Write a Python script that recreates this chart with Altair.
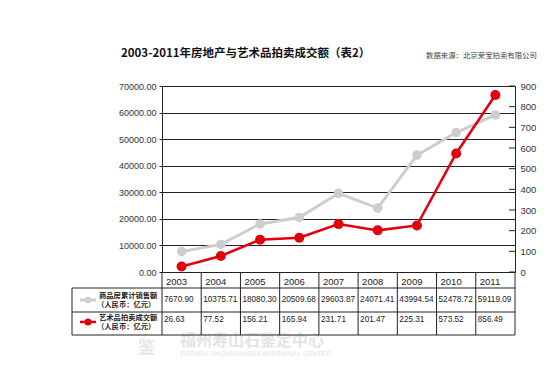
import altair as alt
import pandas as pd

years = ["2003", "2004", "2005", "2006", "2007", "2008", "2009", "2010", "2011"]
housing = [7670.90, 10375.71, 18080.30, 20509.68, 29603.87, 24071.41, 43994.54, 52478.72, 59119.09]
art = [26.63, 77.52, 156.21, 165.94, 231.71, 201.47, 225.31, 573.52, 856.49]
left_ticks = [0, 10000, 20000, 30000, 40000, 50000, 60000, 70000]
right_ticks = [0, 100, 200, 300, 400, 500, 600, 700, 800, 900]
title_text = "2003-2011年房地产与艺术品拍卖成交额（表2）"
source_text = "数据来源：北京荣宝拍卖有限公司"
row1_label = ["商品房累计销售额", "（人民币：亿元）"]
row2_label = ["艺术品拍卖成交额", "（人民币：亿元）"]
wm_cn = "福州寿山石鉴定中心"
wm_en = "FUZHOU SHOUSHANSHI APPRAISAL CENTER"

W, H = 353, 186
GRAY = "#cdcdcd"
RED = "#e2000f"
INK = "#222222"
CJK = "Noto Sans CJK SC"
LAT = "Liberation Sans"

df = pd.DataFrame({"year": years, "housing": housing, "art": art})
df["housing_s"] = [f"{v:.2f}" for v in housing]
df["art_s"] = [f"{v:.2f}" for v in art]
one = pd.DataFrame({"k": [0]})

XS = alt.Scale(type="band", paddingInner=0, paddingOuter=0, domain=years)


def xc(pos):
    return alt.X("year:O", scale=XS, axis=None, bandPosition=pos)


base = alt.Chart(df)

yL = alt.Y(
    "housing:Q",
    scale=alt.Scale(domain=[0, 70000], nice=False, zero=True),
    axis=alt.Axis(
        values=left_ticks, format=".2f", grid=True, gridColor=INK, gridWidth=1,
        domainColor=INK, tickColor=INK, tickSize=3, labelFont=LAT, labelFontSize=9,
        labelColor="#333", labelPadding=3, title=None,
    ),
)
gray_line = base.mark_line(color=GRAY, strokeWidth=3).encode(x=xc(0.5), y=yL)
gray_pts = base.mark_circle(color=GRAY, opacity=1, size=90).encode(x=xc(0.5), y=yL)
left = alt.layer(gray_line, gray_pts)

yR_scale = alt.Scale(domain=[0, 900], nice=False, zero=True)
yR_axis = alt.Axis(
    orient="right", values=right_ticks, format="d", grid=False, domainColor=INK,
    ticks=False, labelFont=LAT, labelFontSize=9.5, labelColor="#333", labelPadding=5,
    title=None,
)
yR = alt.Y("art:Q", scale=yR_scale, axis=yR_axis)
red_line = base.mark_line(color=RED, strokeWidth=2.5).encode(x=xc(0.5), y=yR)
red_pts = base.mark_circle(color=RED, opacity=1, size=100).encode(x=xc(0.5), y=yR)
rtick_df = pd.DataFrame({"art": right_ticks})
rticks = alt.Chart(rtick_df).mark_rule(color=INK, strokeWidth=1).encode(
    x=alt.value(W - 6), x2=alt.value(W), y=yR
)
right = alt.layer(red_line, red_pts, rticks)


def rule(x1, x2, y1, y2, color=INK, sw=1):
    return alt.Chart(one).mark_rule(color=color, strokeWidth=sw).encode(
        x=alt.value(x1), x2=alt.value(x2), y=alt.value(y1), y2=alt.value(y2)
    )


def label(txt, x, y, size, color=INK, weight="normal", font=CJK, align="left", **kw):
    return alt.Chart(one).mark_text(
        text=txt, align=align, baseline="middle", font=font, fontSize=size,
        color=color, fontWeight=weight, **kw
    ).encode(x=alt.value(x), y=alt.value(y))


T_TOP, R1, R2, T_BOT = H, 202, 226, 249
LX = -90

table = [
    base.mark_rule(color=INK, strokeWidth=1).encode(x=xc(0), y=alt.value(T_TOP), y2=alt.value(T_BOT)),
    rule(W, W, T_TOP, T_BOT),
    rule(LX, LX, R1, T_BOT),
    rule(LX, W, R1, R1),
    rule(LX, W, R2, R2),
    rule(LX, W, T_BOT, T_BOT),
    base.mark_text(align="left", baseline="middle", dx=4, font=LAT, fontSize=9.5, color=INK).encode(
        x=xc(0), y=alt.value(196), text="year:N"),
    base.mark_text(align="left", baseline="middle", dx=2, font=LAT, fontSize=8.2, color=INK).encode(
        x=xc(0), y=alt.value(214), text="housing_s:N"),
    base.mark_text(align="left", baseline="middle", dx=2, font=LAT, fontSize=8.2, color=INK).encode(
        x=xc(0), y=alt.value(234), text="art_s:N"),
    rule(-82, -66, 214, 214, color=GRAY, sw=3),
    alt.Chart(one).mark_circle(color=GRAY, opacity=1, size=45).encode(x=alt.value(-74), y=alt.value(214)),
    rule(-82, -66, 236, 236, color=RED, sw=2.5),
    alt.Chart(one).mark_circle(color=RED, opacity=1, size=50).encode(x=alt.value(-74), y=alt.value(236)),
    label(row1_label[0], -63, 210, 7.3, weight="bold"),
    label(row1_label[1], -65, 219, 7.3, weight="bold"),
    label(row2_label[0], -63, 231.5, 7.3, weight="bold"),
    label(row2_label[1], -65, 240.5, 7.3, weight="bold"),
]

deco = [
    label(wm_cn, 18, 254.5, 16, color="#e4e4e4", weight="bold"),
    label(wm_en, 18, 268, 6.8, color="#ebebeb", weight="bold", font=LAT),
    label("鉴", -24, 262, 17, color="#e6e6e6", weight="bold"),
    label(title_text, -41, -32, 11.5, color="#111", weight="bold"),
    label(source_text, 264, -30, 7.4, color="#444"),
]

chart = alt.layer(*deco, left, right, *table).resolve_scale(y="independent").properties(
    width=W,
    height=H,
    autosize=alt.AutoSizeParams(type="none"),
    padding={"left": 154, "top": 78, "right": 30, "bottom": 86},
    background="white",
).configure_view(stroke=None)

chart.save("out.html", embed_options={"renderer": "svg", "actions": False})
